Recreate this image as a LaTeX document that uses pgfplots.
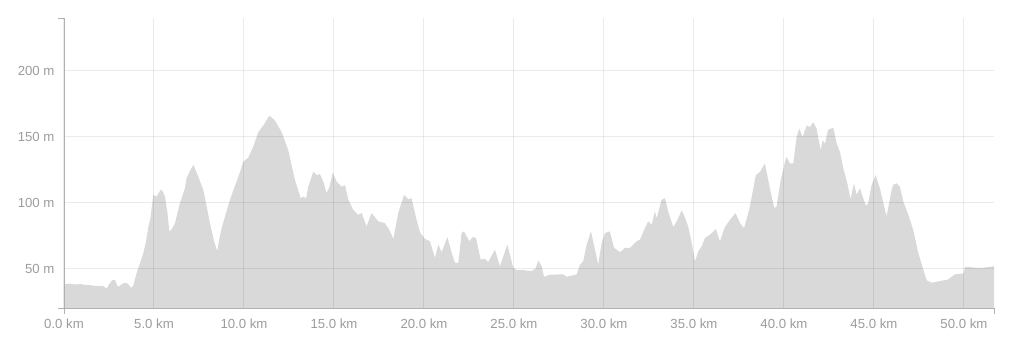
\documentclass[border=0pt]{standalone}
\usepackage{pgfplots}
\pgfplotsset{compat=1.18}
\usepackage{fontspec}
\setmainfont{Liberation Sans}
\definecolor{areafill}{HTML}{D9D9D9}
\definecolor{labelgray}{HTML}{9C9C9C}
\definecolor{spinegray}{HTML}{B0B0B0}
\begin{document}
\begin{tikzpicture}[x=1pt,y=1pt]
\begin{axis}[
  at={(0,0)}, anchor=south west,
  scale only axis, width=930pt, height=290pt,
  xmin=0, xmax=51.67, ymin=20, ymax=240,
  axis on top,
  axis x line*=bottom, axis y line*=left,
  axis line style={spinegray, line width=0.8pt},
  xtick={0,5,...,50}, ytick={50,100,150,200},
  grid=major,
  major grid style={black, opacity=0.08, line width=1pt},
  tick style={draw=none},
  /pgf/number format/assume math mode=true,
  xticklabel={\pgfmathprintnumber[fixed,fixed zerofill,precision=1]{\tick} km},
  yticklabel={\pgfmathprintnumber[fixed,precision=0]{\tick} m},
  ticklabel style={font=\fontsize{13.2}{15}\selectfont, text=labelgray},
  xticklabel style={yshift=-7pt},
  yticklabel style={xshift=-6pt},
  clip=false,
]
\addplot[fill=areafill, draw=none] coordinates {
(0.0,38) (0.3,38.5) (0.6,37.8) (0.9,38.2) (1.2,37.5) (1.44,37.4) (1.7,36.8) (2.0,36.7) (2.2,36.5) (2.37,34.7)
(2.55,39) (2.7,41.2) (2.85,41) (2.95,37) (3.05,36.2) (3.2,38) (3.39,39.2) (3.55,38.5) (3.72,35.2) (3.85,37)
(4.04,46.8) (4.2,53) (4.41,61.8) (4.55,70) (4.69,81.9) (4.8,88) (4.96,105.8) (5.15,104.5) (5.25,107) (5.39,110)
(5.5,108) (5.61,104.5) (5.75,92) (5.85,78.1) (6.0,80) (6.17,84.4) (6.44,99.5) (6.72,110.8) (6.81,118.4) (7.0,124)
(7.18,128.4) (7.3,125) (7.46,119.6) (7.74,109.5) (8.11,84.4) (8.35,70) (8.52,63.1) (8.62,72) (8.76,80.7) (9.0,92)
(9.22,102) (9.45,111) (9.69,119.6) (9.96,130.9) (10.24,134.2) (10.5,142) (10.8,153.5) (11.1,159) (11.41,166) (11.72,162.3)
(12.09,153.5) (12.46,139.7) (12.83,117.1) (13.15,103.3) (13.3,104.5) (13.45,103) (13.57,112) (13.85,123.3) (14.04,120.8) (14.22,121.6)
(14.41,115.8) (14.59,107) (14.75,112) (14.93,122.6) (15.15,115.8) (15.43,112) (15.61,113.3) (15.8,102) (16.07,94.5) (16.35,90.7)
(16.54,92) (16.81,81.9) (17.09,92) (17.46,85.7) (17.83,84.4) (18.07,79.4) (18.3,72.4) (18.57,92) (18.89,105.8) (19.13,102.5)
(19.31,103.3) (19.59,86.9) (19.78,77.4) (20.06,72.4) (20.33,70.6) (20.61,58.1) (20.8,68.1) (20.98,62.3) (21.3,73.9) (21.54,61.8)
(21.72,54.3) (21.91,54.3) (22.09,76.9) (22.22,78.1) (22.52,70.6) (22.71,73.9) (22.89,73.1) (23.15,56.8) (23.39,57.3) (23.57,54.8)
(23.94,64.3) (24.22,51.7) (24.63,68.1) (24.96,50.5) (25.15,48.7) (25.52,48.7) (25.98,48) (26.2,50) (26.35,56) (26.54,51.7)
(26.67,43.7) (27.0,45.3) (27.74,45.5) (27.93,43.7) (28.48,45.5) (28.67,53) (28.85,55.5) (29.04,68.1) (29.28,78.1) (29.46,66.8)
(29.68,53) (29.87,69.4) (30.06,76.9) (30.33,78.1) (30.56,65.6) (30.7,64.3) (30.89,62.3) (31.17,65.6) (31.44,65.6) (31.81,70.6)
(32.0,71.9) (32.28,80.7) (32.46,85.7) (32.65,83.2) (32.83,93.2) (32.93,88.2) (33.2,102) (33.39,103.3) (33.57,93.2) (33.85,81.4)
(34.04,85.7) (34.32,94) (34.44,90.7) (34.68,81.9) (34.87,69.4) (35.06,55.5) (35.24,63) (35.43,66.8) (35.61,73.1) (35.89,75.6)
(36.22,79.9) (36.44,70.6) (36.72,81.4) (37.0,86.9) (37.31,92) (37.56,84.4) (37.78,80.7) (38.07,94.5) (38.44,120.8) (38.67,123.3)
(38.94,129.7) (39.22,110.8) (39.46,95.7) (39.59,97) (39.82,117.1) (40.06,130.9) (40.15,134.7) (40.33,129.7) (40.52,129.7) (40.7,149.7)
(40.85,156.1) (41.04,149.7) (41.26,158.5) (41.44,157.3) (41.63,161) (41.81,156.1) (42.04,139.7) (42.15,147.2) (42.28,144.7) (42.46,155.3)
(42.74,156.8) (42.93,144.7) (43.11,138.4) (43.3,125.9) (43.52,114.6) (43.7,102.5) (43.89,114.6) (44.04,105.8) (44.22,110.8) (44.37,104.5)
(44.56,97.5) (44.68,99.5) (44.87,113.3) (45.09,120.8) (45.33,110.8) (45.7,89.4) (45.98,109.5) (46.07,113.3) (46.26,114.6) (46.44,112)
(46.63,100.7) (46.91,90.7) (47.18,79.4) (47.46,61.8) (47.74,49.2) (47.93,41) (48.2,39.2) (48.67,40.4) (49.13,41.7) (49.5,45.5)
(49.96,46.2) (50.06,51.3) (50.7,50.5) (51.07,50.5) (51.44,51.3) (51.67,51.7)
} \closedcycle;
\draw[spinegray, line width=0.8pt] (rel axis cs:0,1) -- ++(-6pt,0pt);
\draw[spinegray, line width=0.8pt] (rel axis cs:0,0) -- ++(-6pt,0pt);
\draw[spinegray, line width=0.8pt] (rel axis cs:0,0) -- ++(0pt,-6pt);
\draw[spinegray, line width=0.8pt] (rel axis cs:1,0) -- ++(0pt,-6pt);
\end{axis}
\path[use as bounding box] (-64pt,-46pt) rectangle (958pt,308pt);
\end{tikzpicture}
\end{document}
